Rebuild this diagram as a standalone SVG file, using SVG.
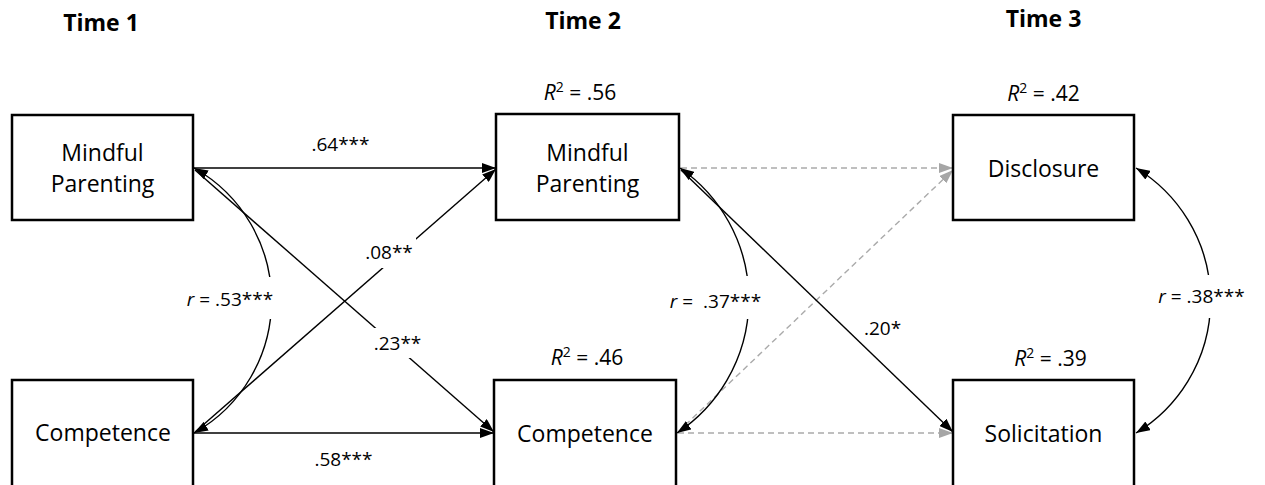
<svg xmlns="http://www.w3.org/2000/svg" width="1265" height="485" viewBox="0 0 1265 485">
<style>
text{font-family:"Open Sans","Liberation Sans",sans-serif;fill:#000;}
.box{fill:#fff;stroke:#000;stroke-width:2.5;}
.nl{font-size:23px;text-anchor:middle;}
.el{font-size:19px;text-anchor:middle;white-space:pre;}
.rl{font-size:21px;text-anchor:middle;}
.time{font-size:23px;font-weight:bold;text-anchor:middle;}
.c{fill:none;stroke:#000;stroke-width:1.4;}
.d{fill:none;stroke:#aaa;stroke-width:1.4;stroke-dasharray:6 4;}
.bg{fill:#fff;}
</style>
<defs>
<marker id="ah" viewBox="0 0 14 10" refX="14" refY="5" markerWidth="14" markerHeight="10" markerUnits="userSpaceOnUse" orient="auto-start-reverse">
<path d="M0,0 L14,5 L0,10 Z" fill="#000"/>
</marker>
<marker id="ag" viewBox="0 0 14 10" refX="14" refY="5" markerWidth="14" markerHeight="10" markerUnits="userSpaceOnUse" orient="auto">
<path d="M0,0 L14,5 L0,10 Z" fill="#a6a6a6"/>
</marker>
</defs>
<g id="titles">
<text class="time" x="101" y="31">Time 1</text>
<text class="time" x="583" y="29">Time 2</text>
<text class="time" x="1043.5" y="27">Time 3</text>
</g>
<g id="connectors">
<path class="c" d="M193,168 L496,168" marker-end="url(#ah)"/>
<path class="c" d="M195,170 L494,432" marker-end="url(#ah)"/>
<path class="c" d="M195,432 L496,169" marker-end="url(#ah)"/>
<path class="c" d="M193,433 L494,433" marker-end="url(#ah)"/>
<path class="c" d="M194,168 A152,152 0 0 1 194,433" marker-start="url(#ah)" marker-end="url(#ah)"/>
<path class="d" d="M681,168 L953,168" marker-end="url(#ag)"/>
<path class="d" d="M678,432 L953,170" marker-end="url(#ag)"/>
<path class="c" d="M681,170 L953,432" marker-end="url(#ah)"/>
<path class="d" d="M678,433 L953,433" marker-end="url(#ag)"/>
<path class="c" d="M680,168 A160,160 0 0 1 677,433" marker-start="url(#ah)" marker-end="url(#ah)"/>
<path class="c" d="M1136,168 A155,155 0 0 1 1136,433" marker-start="url(#ah)" marker-end="url(#ah)"/>
<rect class="bg" x="183" y="277" width="94" height="42"/>
<rect class="bg" x="668" y="276" width="95" height="43"/>
<rect class="bg" x="1155" y="275" width="93" height="43"/>
<rect class="bg" x="362" y="238" width="54" height="30"/>
<rect class="bg" x="370" y="328" width="55" height="30"/>
<text class="el" x="340.5" y="151">.64***</text>
<text class="el" x="389" y="259">.08**</text>
<text class="el" x="397.5" y="350">.23**</text>
<text class="el" x="343.5" y="466">.58***</text>
<text class="el" x="882.5" y="335">.20*</text>
<text class="el" x="230" y="306"><tspan font-style="italic">r</tspan> = .53***</text>
<text class="el" x="715.5" y="308"><tspan font-style="italic">r</tspan> =  .37***</text>
<text class="el" x="1201.5" y="303"><tspan font-style="italic">r</tspan> = .38***</text>
</g>
<g id="t1-mindful">
<rect class="box" x="12" y="115" width="181" height="105"/>
<text class="nl" x="102.5" y="161">Mindful</text>
<text class="nl" x="102.5" y="192">Parenting</text>
</g>
<g id="t1-competence">
<rect class="box" x="12" y="380" width="181" height="115"/>
<text class="nl" x="103" y="441">Competence</text>
</g>
<g id="t2-mindful">
<rect class="box" x="496" y="114" width="183" height="106"/>
<text class="nl" x="587.5" y="161">Mindful</text>
<text class="nl" x="587.5" y="192">Parenting</text>
<text class="rl" x="580" y="100"><tspan font-style="italic">R</tspan><tspan font-size="14" dy="-8">2</tspan><tspan dy="8"> = .56</tspan></text>
</g>
<g id="t2-competence">
<rect class="box" x="494" y="380" width="182" height="115"/>
<text class="nl" x="585" y="442">Competence</text>
<text class="rl" x="587" y="365"><tspan font-style="italic">R</tspan><tspan font-size="14" dy="-8">2</tspan><tspan dy="8"> = .46</tspan></text>
</g>
<g id="t3-disclosure">
<rect class="box" x="953" y="115" width="181" height="105"/>
<text class="nl" x="1043.5" y="177">Disclosure</text>
<text class="rl" x="1043.5" y="101"><tspan font-style="italic">R</tspan><tspan font-size="14" dy="-8">2</tspan><tspan dy="8"> = .42</tspan></text>
</g>
<g id="t3-solicitation">
<rect class="box" x="953" y="380" width="181" height="115"/>
<text class="nl" x="1043.5" y="442">Solicitation</text>
<text class="rl" x="1050.5" y="366"><tspan font-style="italic">R</tspan><tspan font-size="14" dy="-8">2</tspan><tspan dy="8"> = .39</tspan></text>
</g>
</svg>
